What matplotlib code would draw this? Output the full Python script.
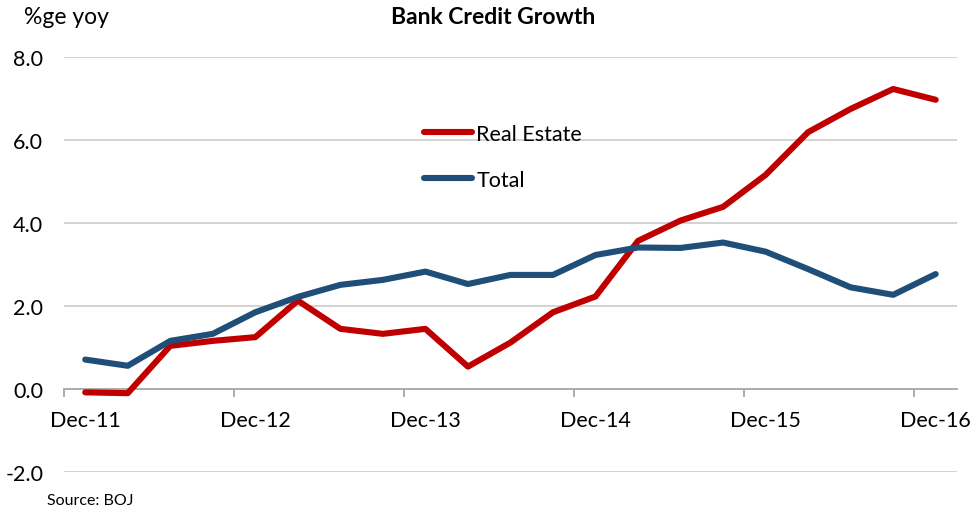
import numpy as np
import matplotlib.pyplot as plt

# quarterly yoy growth in bank lending, Dec-11 .. Dec-16
quarters = ['Dec-11', 'Mar-12', 'Jun-12', 'Sep-12',
            'Dec-12', 'Mar-13', 'Jun-13', 'Sep-13',
            'Dec-13', 'Mar-14', 'Jun-14', 'Sep-14',
            'Dec-14', 'Mar-15', 'Jun-15', 'Sep-15',
            'Dec-15', 'Mar-16', 'Jun-16', 'Sep-16',
            'Dec-16']
real_estate = [-0.08, -0.10, 1.04, 1.16, 1.25, 2.13, 1.45, 1.33, 1.45, 0.54, 1.12,
               1.85, 2.23, 3.57, 4.06, 4.39, 5.16, 6.19, 6.75, 7.23, 6.97]
total = [0.71, 0.56, 1.16, 1.33, 1.85, 2.22, 2.51, 2.63, 2.83, 2.53, 2.75,
         2.75, 3.23, 3.41, 3.40, 3.53, 3.31, 2.89, 2.45, 2.27, 2.77]
y_ticks = [-2.0, 0.0, 2.0, 4.0, 6.0, 8.0]

plt.rcParams['font.family'] = ['Lato', 'DejaVu Sans']

fig = plt.figure(figsize=(9.75, 5.1), dpi=100)
ax = fig.add_axes([0.0656, 0.0725, 0.9159, 0.8137])

x = np.arange(len(quarters))
ax.plot(x, real_estate, color='#C00000', lw=4.4, solid_capstyle='round',
        solid_joinstyle='round', label='Real Estate', zorder=3)
ax.plot(x, total, color='#1F4E79', lw=4.4, solid_capstyle='round',
        solid_joinstyle='round', label='Total', zorder=3)

ax.set_xlim(-0.5, len(quarters) - 0.5)
ax.set_ylim(-2, 8)

# category axis sits at zero, tick marks between year groups
for s in ['top', 'right', 'left']:
    ax.spines[s].set_visible(False)
ax.spines['bottom'].set_position(('data', 0))
ax.spines['bottom'].set_color('#A6A6A6')
ax.spines['bottom'].set_linewidth(1.3)

ax.set_xticks(np.arange(-0.5, len(quarters) - 1, 4))
ax.set_xticklabels([])
ax.set_xticks(x[::4], minor=True)
ax.set_xticklabels(quarters[::4], minor=True, fontsize=15.5)
ax.tick_params(axis='x', which='major', length=6, width=1.3, color='#A6A6A6', direction='out')
ax.tick_params(axis='x', which='minor', length=0, pad=15)

ax.set_yticks(y_ticks)
ax.set_yticklabels(['%.1f' % v for v in y_ticks], fontsize=15.5)
ax.tick_params(axis='y', length=0, pad=15)
for v in y_ticks:
    if v != 0:
        ax.axhline(v, color='#D0D0D0', lw=1.3, zorder=1)

ax.legend(loc='upper left', bbox_to_anchor=(0.382, 0.886), frameon=False, fontsize=15.5,
          handlelength=2.2, handletextpad=0.2, labelspacing=1.22)

fig.text(0.506, 0.966, 'Bank Credit Growth', ha='center', va='center',
         fontsize=16.5, fontweight='bold')
fig.text(0.025, 0.966, '%ge yoy', ha='left', va='center', fontsize=16.5)
fig.text(0.048, 0.018, 'Source: BOJ', ha='left', va='center', fontsize=11.5)

fig.savefig('out.png', dpi=100)
